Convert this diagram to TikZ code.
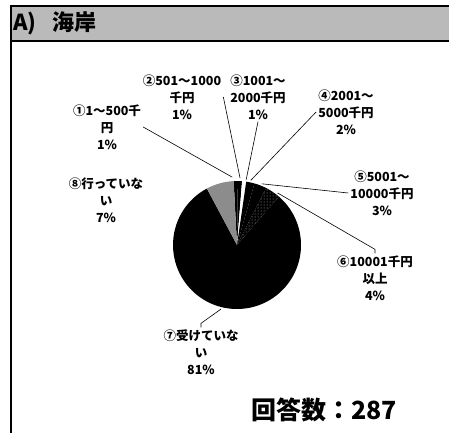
\documentclass[tikz,border=0pt]{standalone}
\usepackage{fontspec}
\newfontfamily\jpfont{Noto Sans CJK JP}
\usetikzlibrary{calc,patterns}

\begin{document}
\begin{tikzpicture}[x=1pt, y=-1pt, line join=round,
  lbl/.style={align=center, inner sep=2pt, font=\jpfont\bfseries\fontsize{12.5}{17}\selectfont},
  leader/.style={line width=0.6pt}]
\useasboundingbox (0,0) rectangle (449,433);

% header band and frame
\fill[black!27] (10,6) rectangle (449,41);
\draw[line width=2pt] (10.5,5) -- (10.5,433);
\draw[line width=2pt] (10,6) -- (449,6);
\draw[line width=2pt] (10,41) -- (449,41);
\node (head) at (13,23) [anchor=west, inner sep=0, font=\jpfont\bfseries\fontsize{22}{22}\selectfont] {A)\hspace{16pt}海岸};

% pie, angles clockwise from the top
\coordinate (c) at (237,245);
\foreach \a/\b/\f in {-3/0.76/black, 0.76/4.53/black, 4.53/8.29/white, 8.29/15.82/black,
                      15.82/27.10/black, 27.10/40.90/black, 40.90/331.91/black, 331.91/357/black!45}
  \fill[\f] (c) -- ($(c)+(\a-90:64)$) arc[start angle=\a-90, end angle=\b-90, radius=64] -- cycle;
\fill[pattern=dots, pattern color=white!70!black] (c) -- ($(c)+(27.10-90:64)$) arc[start angle=27.10-90, end angle=40.90-90, radius=64] -- cycle;

\coordinate (e1) at ($(c)+(-4-90:68)$);
\coordinate (e2) at ($(c)+(2.6-90:67)$);
\coordinate (e3) at ($(c)+(8-90:66)$);
\coordinate (e4) at ($(c)+(12-90:66)$);
\coordinate (e5) at ($(c)+(22-90:66)$);
\coordinate (e6) at ($(c)+(38-90:66)$);
\coordinate (e7) at ($(c)+(194-90:66)$);

% labels
\node (l1) at (107,127) [lbl] {①1～500千\\円\\1\%};
\node (l2) at (182,97) [lbl] {②501～1000\\千円\\1\%};
\node (l3) at (258,97) [lbl] {③1001～\\2000千円\\1\%};
\node (l4) at (346,112) [lbl] {④2001～\\5000千円\\2\%};
\node (l5) at (382,193) [lbl] {⑤5001～\\10000千円\\3\%};
\node (l6) at (375,278) [lbl] {⑥10001千円\\以上\\4\%};
\node (l7) at (201,352) [lbl] {⑦受けていな\\い\\81\%};
\node (l8) at (106,200) [lbl] {⑧行っていな\\い\\7\%};

\draw[leader] (l1.east) -- (e1);
\draw[leader] (l2.east) -- (e2);
\draw[leader] (l3.south) -- (e3);
\draw[leader] (l4.west) -- (e4);
\draw[leader] (l5.west) -- (e5);
\draw[leader] (l6.north) -- ++(0,-4) -- (e6);
\draw[leader] (l7.north) -- ++(0,-4) -- (e7);

\node (total) at (324,410) [font=\jpfont\bfseries\fontsize{25}{25}\selectfont] {回答数：287};

\end{tikzpicture}
\end{document}
